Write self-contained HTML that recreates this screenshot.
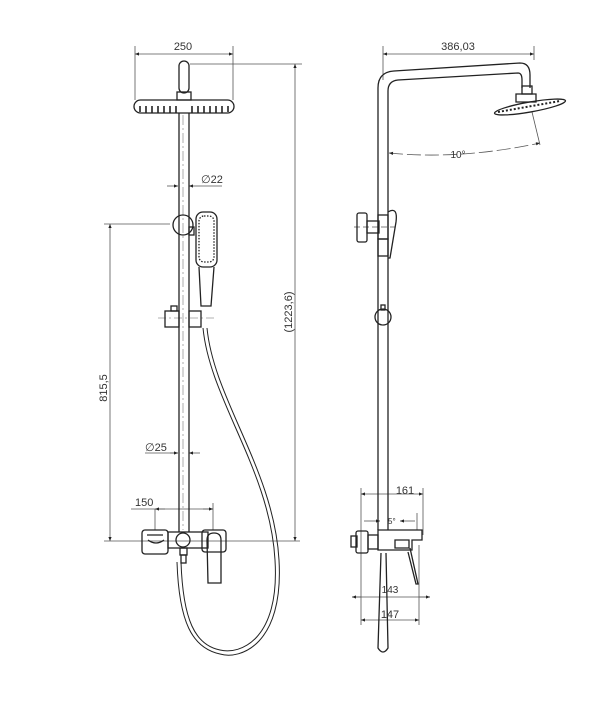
<!DOCTYPE html>
<html><head><meta charset="utf-8"><style>
html,body{margin:0;padding:0;background:#fff;width:616px;height:702px;overflow:hidden}
svg{display:block}
text{font-family:"Liberation Sans",sans-serif;fill:#333}
</style></head><body>
<svg width="616" height="702" viewBox="0 0 616 702" xmlns="http://www.w3.org/2000/svg">
<defs>
<marker id="a" viewBox="0 0 10 10" refX="10" refY="5" markerWidth="7" markerHeight="5" orient="auto-start-reverse"><path d="M0,1 L10,5 L0,9 z" fill="#222"/></marker>
</defs>
<g fill="none" stroke="#222" stroke-width="1.3">
<!-- LEFT VIEW -->
<!-- dims -->
<g stroke="#555" stroke-width="0.8">
<line x1="135" y1="46" x2="135" y2="100"/><line x1="233" y1="46" x2="233" y2="100"/>
<line x1="135" y1="54" x2="233" y2="54" marker-start="url(#a)" marker-end="url(#a)"/>
<line x1="190" y1="64" x2="302" y2="64"/>
<line x1="295" y1="64" x2="295" y2="541" marker-start="url(#a)" marker-end="url(#a)"/>
<line x1="104" y1="224" x2="170" y2="224"/>
<line x1="104" y1="541" x2="300" y2="541"/>
<line x1="110" y1="224" x2="110" y2="541" marker-start="url(#a)" marker-end="url(#a)"/>
<line x1="167" y1="186" x2="178" y2="186" marker-end="url(#a)"/><line x1="200" y1="186" x2="189" y2="186" marker-end="url(#a)"/><line x1="200" y1="186" x2="222" y2="186"/>
<line x1="145" y1="453" x2="178" y2="453"/><line x1="170" y1="453" x2="178" y2="453" marker-end="url(#a)"/><line x1="200" y1="453" x2="189" y2="453" marker-end="url(#a)"/>
<line x1="131" y1="509" x2="213" y2="509"/>
<line x1="155" y1="509" x2="155" y2="530"/><line x1="213" y1="503" x2="213" y2="530"/>
<line x1="165" y1="509" x2="155" y2="509" marker-end="url(#a)"/><line x1="203" y1="509" x2="213" y2="509" marker-end="url(#a)"/>
<line x1="183" y1="115" x2="183" y2="530" stroke-dasharray="10 3 2 3" stroke="#999"/>
<line x1="158" y1="318" x2="215" y2="318" stroke-dasharray="8 3 2 3" stroke="#999"/>
</g>
<!-- top cap -->
<rect x="179" y="61" width="10" height="32" rx="5"/>
<rect x="177" y="92" width="14" height="8"/>
<!-- head -->
<rect x="134" y="100" width="100" height="13" rx="6.5"/>
<g stroke-width="1.6"><path d="M140,106 v6 M146,106 v7 M152,106 v7 M158,106 v7 M164,106 v7 M170,106 v7 M176,106 v7 M192,106 v7 M198,106 v7 M204,106 v7 M210,106 v7 M216,106 v7 M222,106 v7 M228,106 v6"/></g>
<!-- pole -->
<line x1="179" y1="113" x2="179" y2="532"/><line x1="189" y1="113" x2="189" y2="532"/>
<!-- holder -->
<circle cx="183" cy="225" r="10"/>
<rect x="189" y="227" width="5" height="8"/>
<rect x="196" y="212" width="21" height="55" rx="7"/>
<rect x="199" y="216" width="15" height="46" rx="5" stroke-dasharray="1.5 1.5"/>
<path d="M199,267 L201,306 L211,306 L214,267"/>
<rect x="165" y="311" width="14" height="16"/><rect x="189" y="311" width="12" height="16"/>
<rect x="171" y="306" width="6" height="5"/>
<!-- hose -->
<path d="M203,328 C210,400 270,470 275,560 C280,640 240,655 220,650 C195,645 183,620 181,562" stroke-width="1"/>
<path d="M207,328 C214,400 274,470 279,560 C284,645 240,660 220,654 C192,648 179,622 177,562" stroke-width="1"/>
<!-- mixer -->
<rect x="142" y="530" width="26" height="24" rx="3"/>
<path d="M147,535 h16 M148,540 q8,6 16,0"/>
<rect x="168" y="532" width="40" height="16"/>
<rect x="202" y="530" width="24" height="22" rx="3"/>
<circle cx="183" cy="540" r="7"/>
<rect x="180" y="548" width="7" height="7"/><rect x="181" y="555" width="5" height="8"/>
<path d="M207,540 q0,-7 7,-7 q7,0 7,7 v43 h-13 z"/>
<!-- RIGHT VIEW -->
<g stroke="#555" stroke-width="0.8">
<line x1="383" y1="46" x2="383" y2="80"/><line x1="534" y1="46" x2="534" y2="60"/>
<line x1="383" y1="54" x2="534" y2="54" marker-start="url(#a)" marker-end="url(#a)"/>
<path d="M389,153 Q460,160 540,143" stroke-dasharray="14 4" marker-start="url(#a)" marker-end="url(#a)"/>
<line x1="532" y1="112" x2="540" y2="145"/>
<line x1="354" y1="227" x2="395" y2="227" stroke-dasharray="6 3"/>
<line x1="361" y1="488" x2="361" y2="625"/><line x1="423" y1="488" x2="423" y2="535"/><line x1="419" y1="545" x2="419" y2="625"/>
<line x1="361" y1="494" x2="423" y2="494" marker-start="url(#a)" marker-end="url(#a)"/>
<line x1="364" y1="521" x2="380" y2="521" marker-end="url(#a)"/><line x1="415" y1="521" x2="400" y2="521" marker-end="url(#a)"/>
<line x1="417" y1="513" x2="417" y2="530"/>
<line x1="352" y1="597" x2="430" y2="597"/>
<line x1="361" y1="597" x2="352" y2="597" marker-end="url(#a)"/><line x1="419" y1="597" x2="430" y2="597" marker-end="url(#a)"/>
<line x1="361" y1="620" x2="419" y2="620" marker-start="url(#a)" marker-end="url(#a)"/>
</g>
<!-- pole + arm -->
<path d="M378,530 V88 Q378,72 394,71 L520,63 Q530,63 530,75 V88"/>
<path d="M388,530 V91 Q388,81 398,80 L518,73 Q522,73 522,80 V88"/>
<rect x="522" y="86" width="10" height="8"/>
<path d="M516,94 h20 v8 h-20 z"/>
<ellipse cx="530" cy="107" rx="36" ry="5" transform="rotate(-10 530 107)"/>
<path d="M498,112 L560,101" stroke-dasharray="2 2" stroke-width="2"/>
<!-- knob -->
<rect x="357" y="213" width="10" height="29" rx="2"/>
<rect x="367" y="221" width="12" height="12"/>
<rect x="378" y="215" width="10" height="24"/>
<path d="M388,212 Q398,206 396,222 L390,258 L388,258"/>
<rect x="378" y="239" width="10" height="17"/>
<circle cx="383" cy="317" r="8"/>
<rect x="381" y="305" width="4" height="5"/>
<!-- mixer -->
<rect x="351" y="536" width="6" height="11"/>
<rect x="356" y="531" width="12" height="22" rx="2"/>
<rect x="368" y="535" width="10" height="14"/>
<path d="M378,530 h44 v10 h-10 v10 h-34 z"/>
<path d="M395,540 h14 v8 h-14 z"/>
<path d="M410,548 L418,584 L416,584 L408,552"/>
<path d="M381,553 L378,648 Q383,656 388,648 L386,553"/>
</g>
<text x="183" y="50" font-size="11" text-anchor="middle">250</text>
<text x="201" y="183" font-size="11">∅22</text>
<text x="145" y="451" font-size="11">∅25</text>
<text x="135" y="506" font-size="11">150</text>
<text transform="translate(107,388) rotate(-90)" font-size="11" text-anchor="middle">815,5</text>
<text transform="translate(292,312) rotate(-90)" font-size="11" text-anchor="middle">(1223,6)</text>
<text x="458" y="50" font-size="11" text-anchor="middle">386,03</text>
<text x="458" y="158" font-size="10" text-anchor="middle">10°</text>
<text x="405" y="494" font-size="11" text-anchor="middle">161</text>
<text x="388" y="524" font-size="8">5°</text>
<text x="390" y="593" font-size="10" text-anchor="middle">143</text>
<text x="390" y="618" font-size="11" text-anchor="middle">147</text>
</svg>
</body></html>
